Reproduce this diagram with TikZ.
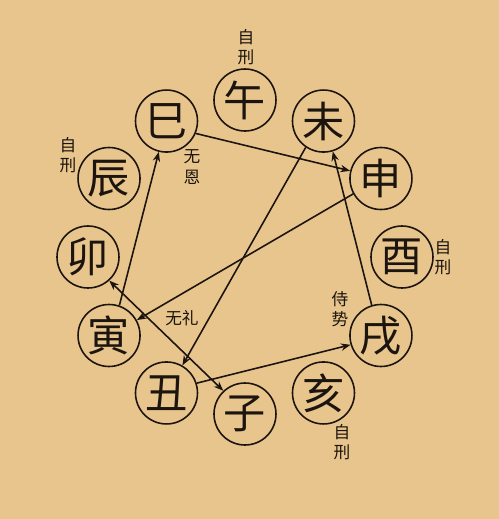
\documentclass[tikz,border=0pt]{standalone}
\usepackage{fontspec}
\usepackage{xcolor}
\usepackage{tikz}
\usetikzlibrary{arrows.meta}
\newfontfamily\cjk{Noto Sans CJK SC}
\definecolor{paper}{RGB}{231,197,141}
\definecolor{ink}{RGB}{28,20,14}

\begin{document}
\begin{tikzpicture}[
    zhi/.style={draw=ink, circle, line width=0.9pt, minimum size=1.24cm, inner sep=0pt, text=ink, font=\cjk\fontsize{24pt}{24pt}\selectfont},
    note/.style={align=center, text=ink, inner sep=0pt, font=\cjk\fontsize{9.5pt}{11.5pt}\selectfont},
    link/.style={draw=ink, line width=0.9pt, -{Stealth[length=5.5pt, width=4.2pt]}}
]
    \fill[paper] (-4.9,-5.24) rectangle (5.08,5.14);
    \useasboundingbox (-4.9,-5.24) rectangle (5.08,5.14);

    % the twelve branches
    \node[zhi] (wu)   at (90:3.14)   {午};
    \node[zhi] (wei)  at (60:3.14)   {未};
    \node[zhi] (shen) at (30:3.14)   {申};
    \node[zhi] (you)  at (0:3.14)    {酉};
    \node[zhi] (xu)   at (-30:3.14)  {戌};
    \node[zhi] (hai)  at (-60:3.14)  {亥};
    \node[zhi] (zi)   at (-90:3.14)  {子};
    \node[zhi] (chou) at (-120:3.14) {丑};
    \node[zhi] (yin)  at (-150:3.14) {寅};
    \node[zhi] (mao)  at (180:3.14)  {卯};
    \node[zhi] (chen) at (150:3.14)  {辰};
    \node[zhi] (si)   at (120:3.14)  {巳};

    % labels
    \node[note] (wuself)   at (0.02,4.2)   {自\\刑};
    \node[note] (chenself) at (-3.54,2.04) {自\\刑};
    \node[note] (youself)  at (3.96,0)     {自\\刑};
    \node[note] (haiself)  at (1.94,-3.7)  {自\\刑};
    \node[note] (wuen)     at (-1.06,1.8)  {无\\恩};
    \node[note] (shishi)   at (1.9,-1.04)  {侍\\势};
    \node[note] (wuli)     at (-1.26,-1.22) {无礼};

    % punishments
    \draw[link] (si.-23) -- (shen.166);
    \draw[link] (shen.209) -- (yin.29);
    \draw[link] (yin.71) -- (si.256);
    \draw[link] (wei.236) -- (chou.60);
    \draw[link] (chou.18) -- (xu.197);
    \draw[link] (xu.107) -- (wei.287);
    \draw[link, {Stealth[length=5.5pt, width=4.2pt]}-{Stealth[length=5.5pt, width=4.2pt]}] (mao.312) -- (zi.133);
\end{tikzpicture}
\end{document}
